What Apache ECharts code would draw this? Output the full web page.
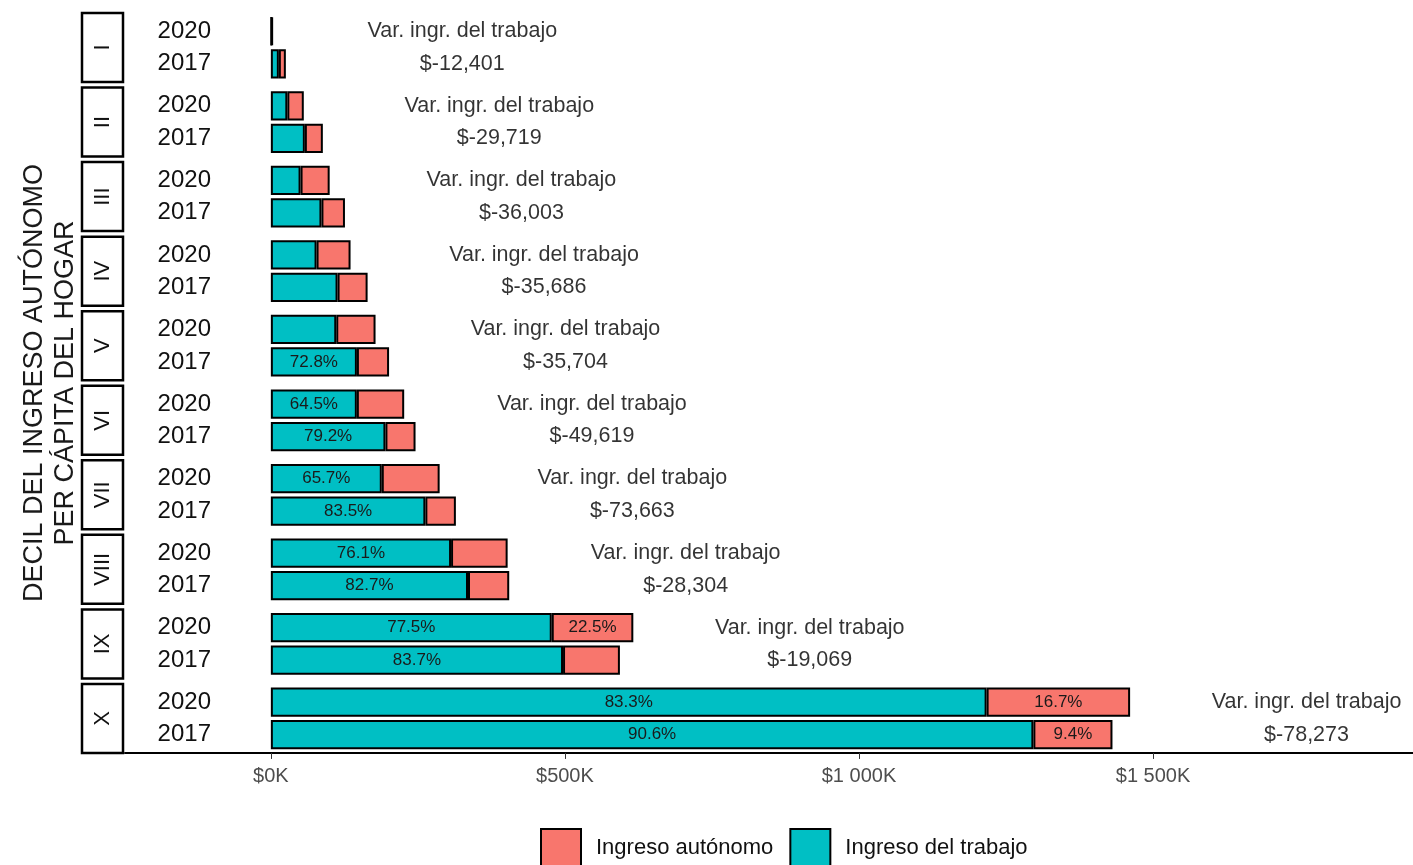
<!DOCTYPE html>
<html><head><meta charset="utf-8">
<script src="https://cdn.jsdelivr.net/npm/echarts@6/dist/echarts.min.js"></script>
<style>html,body{margin:0;padding:0;background:#fff}#c{width:1413px;height:865px}</style>
</head><body><div id="c"></div>
<script>
const deciles = ['I','II','III','IV','V','VI','VII','VIII','IX','X'];
const years = ['2017','2020'];
// values in thousands of pesos
const trabajo2020 = [1.2, 28, 50.5, 77.7, 111.2, 146.2, 188.6, 306.4, 477.6, 1217];
const autonomo2020 = [2.0, 28, 49.5, 57.8, 66.8, 80.5, 98.4, 96.2, 138.7, 244];
const trabajo2017 = [13.6, 57.8, 86, 113.4, 146.3, 194.8, 262.7, 335.2, 496.8, 1296.5];
const autonomo2017 = [11.9, 30.6, 40, 51.1, 54.7, 51.2, 51.9, 70.1, 96.7, 134.5];
const varTrabajo = [-12401, -29719, -36003, -35686, -35704, -49619, -73663, -28304, -19069, -78273];
const tickValues = [0, 500, 1000, 1500];
const tickLabels = ['$0K', '$500K', '$1 000K', '$1 500K'];

const TEAL = '#00BFC4', RED = '#F8766D';
const L = 125, TOP0 = 13, H = 69, STEP = 74.55;
const XMIN = -248, XMAX = 1942;
const FONT = 'Liberation Sans, Arial, sans-serif';

const grids = [], xAxes = [], yAxes = [], series = [], graphics = [];
function fmtVar(v){ return '$-' + Math.abs(v).toLocaleString('en-US'); }

deciles.forEach((d, i) => {
  const top = TOP0 + i * STEP;
  const last = i === deciles.length - 1;
  grids.push({left: L, right: 0, top: top + 2, height: H - 4});
  xAxes.push({
    type: 'value', gridIndex: i, min: XMIN, max: XMAX,
    show: last, offset: 2,
    splitLine: {show: false},
    axisLine: {show: last, onZero: false, lineStyle: {color: '#000', width: 2}},
    axisTick: {show: last, customValues: tickValues, length: 6, lineStyle: {color: '#333', width: 1}},
    axisLabel: {show: last, customValues: tickValues, margin: 14, fontSize: 20, color: '#4d4d4d', fontFamily: FONT,
      formatter: v => tickLabels[tickValues.indexOf(v)] || ''}
  });
  yAxes.push({
    type: 'category', gridIndex: i, data: years,
    axisLine: {show: false}, axisTick: {show: false}, splitLine: {show: false},
    axisLabel: {interval: 0, margin: -86, fontSize: 24, color: '#111', fontFamily: FONT}
  });
  const tr = [trabajo2017[i], trabajo2020[i]];
  const au = [autonomo2017[i], autonomo2020[i]];
  const tot = [tr[0] + au[0], tr[1] + au[1]];
  const lbl = (vals) => ({
    show: true, position: 'inside', fontSize: 17, color: '#1a1a1a', fontFamily: FONT,
    formatter: p => vals[p.dataIndex] > 120 ? (vals[p.dataIndex] / tot[p.dataIndex] * 100).toFixed(1) + '%' : ''
  });
  series.push({
    name: 'Ingreso del trabajo', type: 'bar', stack: 's' + i, xAxisIndex: i, yAxisIndex: i,
    data: tr, barWidth: '90%',
    itemStyle: {color: TEAL, borderColor: '#000', borderWidth: 2},
    label: lbl(tr)
  });
  series.push({
    name: 'Ingreso autónomo', type: 'bar', stack: 's' + i, xAxisIndex: i, yAxisIndex: i,
    data: au, barWidth: '90%',
    itemStyle: {color: RED, borderColor: '#000', borderWidth: 2},
    label: lbl(au)
  });
  const xpos = Math.max(tot[0], tot[1]) + 300;
  series.push({
    type: 'scatter', xAxisIndex: i, yAxisIndex: i, symbolSize: 1,
    itemStyle: {color: 'rgba(0,0,0,0)'}, silent: true,
    data: [[xpos, '2020', 'Var. ingr. del trabajo'], [xpos, '2017', fmtVar(varTrabajo[i])]],
    label: {show: true, position: 'inside', fontSize: 21.5, color: '#000', fontFamily: FONT, formatter: p => p.data[2]}
  });
  // facet strip
  graphics.push({
    type: 'rect', shape: {x: 82, y: top, width: 41, height: H},
    style: {fill: '#fff', stroke: '#000', lineWidth: 2.5}
  });
  graphics.push({
    type: 'text', x: 102.5, y: top + H / 2, rotation: Math.PI / 2,
    style: {text: d, fontSize: 22, fill: '#111', fontFamily: FONT, align: 'center', verticalAlign: 'middle'}
  });
});

graphics.push({
  type: 'text', x: 50, y: 383, rotation: Math.PI / 2,
  style: {text: 'DECIL DEL INGRESO AUTÓNOMO\nPER CÁPITA DEL HOGAR', fontSize: 27, lineHeight: 31, fill: '#1a1a1a', fontFamily: FONT, align: 'center', verticalAlign: 'middle'}
});

const chart = echarts.init(document.getElementById('c'), null, {renderer: 'canvas'});
chart.setOption({
  animation: false,
  backgroundColor: '#fff',
  grid: grids, xAxis: xAxes, yAxis: yAxes, series: series,
  legend: {
    data: ['Ingreso autónomo', 'Ingreso del trabajo'],
    left: 535, top: 823, itemWidth: 40, itemHeight: 38, itemGap: 16,
    icon: 'rect',
    itemStyle: {borderColor: '#000', borderWidth: 2},
    textStyle: {fontSize: 22, color: '#111', fontFamily: FONT, padding: [0, 0, 0, 10]}
  },
  graphic: graphics
});
</script></body></html>
